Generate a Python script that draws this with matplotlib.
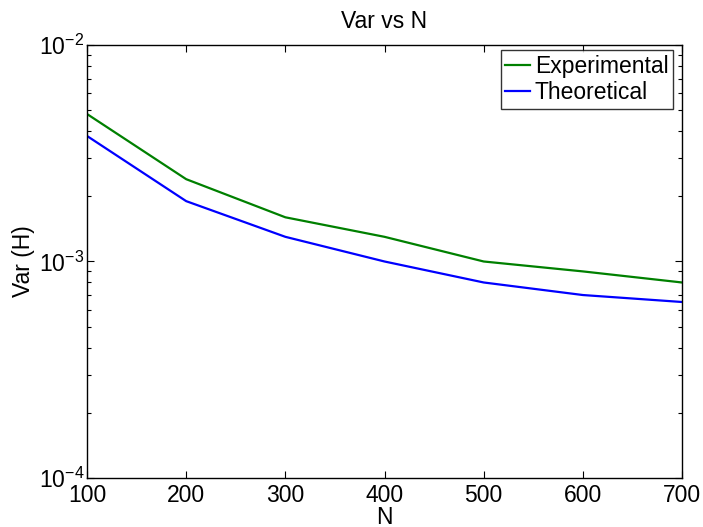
import matplotlib
matplotlib.use("Agg")
import matplotlib.pyplot as plt
from matplotlib.ticker import LogLocator, NullFormatter

plt.rcParams['font.family'] = ['Liberation Sans', 'DejaVu Sans']

N = [100, 200, 300, 400, 500, 600, 700]
var_exp = [4.8e-3, 2.4e-3, 1.6e-3, 1.3e-3, 1.0e-3, 0.9e-3, 0.8e-3]
var_theo = [3.8e-3, 1.9e-3, 1.3e-3, 1.0e-3, 0.8e-3, 0.7e-3, 0.65e-3]

fs = 16.5
fig = plt.figure(figsize=(7.03, 5.27), dpi=100)
ax = fig.add_axes([0.1238, 0.093, 0.8464, 0.8216])

ax.plot(N, var_exp, color='#008000', lw=1.6, label='Experimental')
ax.plot(N, var_theo, color='#0000ff', lw=1.6, label='Theoretical')

ax.set_yscale('log')
ax.set_xlim(100, 700)
ax.set_ylim(1e-4, 1e-2)
ax.set_xticks(N)
ax.yaxis.set_major_locator(LogLocator(base=10, numticks=5))
ax.yaxis.set_minor_locator(LogLocator(base=10, subs=range(2, 10), numticks=20))
ax.yaxis.set_minor_formatter(NullFormatter())

ax.tick_params(which='both', direction='in', top=True, right=True, labelsize=fs)
ax.tick_params(which='major', length=5, width=0.8)
ax.tick_params(which='minor', length=3, width=0.8)
ax.tick_params(axis='x', pad=4)
ax.tick_params(axis='y', pad=2)
for s in ax.spines.values():
    s.set_linewidth(1.0)

ax.set_title('Var vs N', fontsize=fs, pad=12)
ax.set_xlabel('N', fontsize=fs, labelpad=-0.5)
ax.set_ylabel('Var (H)', fontsize=fs, labelpad=3)

leg = ax.legend(loc='upper right', bbox_to_anchor=(0.985, 0.988), borderaxespad=0,
                fontsize=fs, frameon=True, fancybox=False, edgecolor='black',
                handlelength=1.1, handletextpad=0.2, borderpad=0.2, labelspacing=0.15)
leg.get_frame().set_linewidth(1.0)

fig.savefig('out.png', dpi=100)
